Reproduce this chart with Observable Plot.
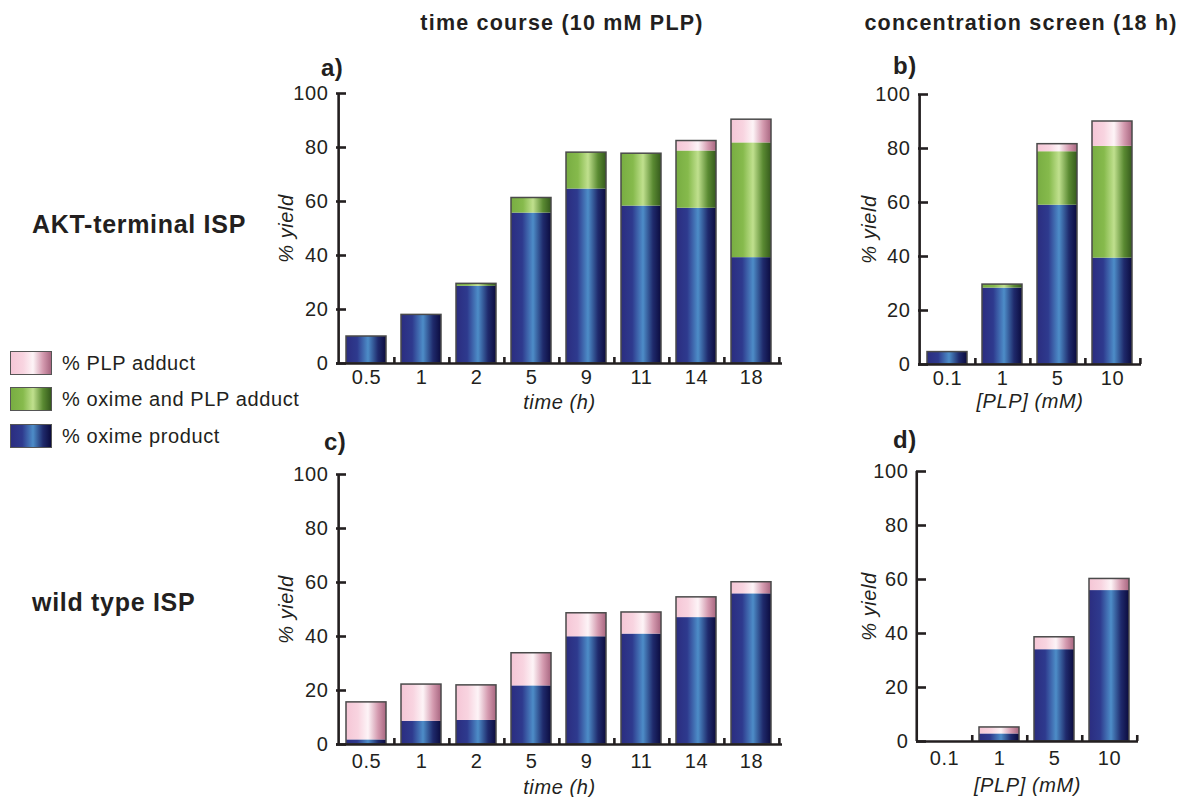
<!DOCTYPE html>
<html><head><meta charset="utf-8">
<script src="https://cdn.jsdelivr.net/npm/d3@7"></script>
<script src="https://cdn.jsdelivr.net/npm/@observablehq/plot@0.6"></script>
<style>
body{margin:0;background:#fff;}
#root{position:relative;width:1181px;height:797px;overflow:hidden;font-family:"Liberation Sans",Arial,sans-serif;color:#231f20;}
.abs{position:absolute;white-space:nowrap;line-height:1;}
.title{font-weight:bold;font-size:21.5px;letter-spacing:1.2px;transform:translateX(-50%);}
.row{font-weight:bold;font-size:25px;letter-spacing:0.7px;}
.letter{font-weight:bold;font-size:24px;letter-spacing:0.5px;}
.leg{display:flex;align-items:center;font-size:20px;letter-spacing:0.6px;}
.sw{width:40px;height:22px;border:1.5px solid #555;margin-right:10px;}
</style></head><body>
<svg width="0" height="0" style="position:absolute">
<defs>
<linearGradient id="gBlue" x1="0" x2="1" y1="0" y2="0">
<stop offset="0" stop-color="#2b2d80"/><stop offset="0.28" stop-color="#2e3a8e"/><stop offset="0.55" stop-color="#4d8dc8"/><stop offset="0.8" stop-color="#1f2a6c"/><stop offset="1" stop-color="#0b0b3e"/>
</linearGradient>
<linearGradient id="gGreen" x1="0" x2="1" y1="0" y2="0">
<stop offset="0" stop-color="#78ad42"/><stop offset="0.3" stop-color="#86ba4c"/><stop offset="0.55" stop-color="#c0e08e"/><stop offset="0.8" stop-color="#5a8a32"/><stop offset="1" stop-color="#355a1c"/>
</linearGradient>
<linearGradient id="gPink" x1="0" x2="1" y1="0" y2="0">
<stop offset="0" stop-color="#f5c6d6"/><stop offset="0.3" stop-color="#f8d4e0"/><stop offset="0.55" stop-color="#fdf4f7"/><stop offset="0.8" stop-color="#d49aaf"/><stop offset="1" stop-color="#a86680"/>
</linearGradient>
</defs>
</svg>
<div id="root"></div>
<script>
// ---- data ----
const timeCats = ["0.5", "1", "2", "5", "9", "11", "14", "18"];
const concCats = ["0.1", "1", "5", "10"];
const seriesNames = ["% oxime product", "% oxime and PLP adduct", "% PLP adduct"];
const legendOrder = ["% PLP adduct", "% oxime and PLP adduct", "% oxime product"];
const yTicks = [0, 20, 40, 60, 80, 100];

// AKT-terminal ISP, time course (segment sizes)
const aktTimeOxime = [10, 18, 28.6, 55.7, 64.6, 58.3, 57.5, 39.2];
const aktTimeBoth  = [0, 0, 0.9, 5.6, 13.5, 19.4, 21.2, 42.5];
const aktTimePLP   = [0, 0, 0, 0, 0, 0, 3.7, 8.6];
// AKT-terminal ISP, concentration screen
const aktConcOxime = [4.6, 28.3, 59.0, 39.4];
const aktConcBoth  = [0, 1.3, 19.8, 41.4];
const aktConcPLP   = [0, 0, 2.8, 9.2];
// wild type ISP, time course
const wtTimeOxime = [1.7, 8.6, 8.9, 21.7, 39.9, 40.9, 47.0, 55.8];
const wtTimeBoth  = [0, 0, 0, 0, 0, 0, 0, 0];
const wtTimePLP   = [13.9, 13.6, 13.0, 12.1, 8.7, 8.0, 7.5, 4.3];
// wild type ISP, concentration screen
const wtConcOxime = [0, 2.8, 34.0, 55.9];
const wtConcBoth  = [0, 0, 0, 0];
const wtConcPLP   = [0, 2.4, 4.6, 4.3];

const ink = "#231f20";
const fills = {"% oxime product": "url(#gBlue)", "% oxime and PLP adduct": "url(#gGreen)", "% PLP adduct": "url(#gPink)"};
const root = document.getElementById("root");

function panel(cfg) {
  const {cats, oxime, both, plp, xLabel, left, top, frameW, frameH, tickPad, xLabelDy, yLabelDx} = cfg;
  const rows = [];
  cats.forEach((c, i) => {
    rows.push({cat: c, series: seriesNames[0], value: oxime[i]});
    rows.push({cat: c, series: seriesNames[1], value: both[i]});
    rows.push({cat: c, series: seriesNames[2], value: plp[i]});
  });
  const totals = cats.map((c, i) => ({cat: c, total: oxime[i] + both[i] + plp[i]})).filter(d => d.total > 0);
  const mL = 70, mR = 14, mT = 12, mB = 66;
  const step = frameW / cats.length;
  const svg = Plot.plot({
    width: mL + frameW + mR, height: mT + frameH + mB,
    marginLeft: mL, marginRight: mR, marginTop: mT, marginBottom: mB,
    style: {fontFamily: '"Liberation Sans", Arial, sans-serif', fontSize: "20px", color: ink, background: "transparent", overflow: "visible", letterSpacing: "0.6px"},
    x: {domain: cats, paddingInner: 0.27, paddingOuter: 0.135, align: 0.5},
    y: {domain: [0, 100]},
    color: {domain: seriesNames, range: seriesNames.map(s => fills[s])},
    marks: [
      Plot.barY(rows, {x: "cat", y: "value", fill: "series", z: "series"}),
      Plot.barY(totals, {x: "cat", y: "total", fill: "none", stroke: "#4a4a4a", strokeWidth: 1.5}),
      Plot.ruleY([0], {stroke: ink, strokeWidth: 2.6}),
      Plot.ruleX([cats[0]], {x: d => d, dx: -step / 2, stroke: ink, strokeWidth: 2.6}),
      Plot.tickY(yTicks, {y: d => d, insetRight: frameW - 10, stroke: ink, strokeWidth: 2.6}),
      Plot.tickX(cats, {x: d => d, dx: step / 2, insetTop: frameH - 6, stroke: ink, strokeWidth: 2.6}),
      Plot.axisY({ticks: yTicks, tickSize: 0, tickPadding: 8, label: null, fontSize: 20}),
      Plot.axisX({tickSize: 0, tickPadding: tickPad, label: null, fontSize: 20}),
      Plot.text([xLabel], {frameAnchor: "bottom", dy: xLabelDy, fontStyle: "italic", fontSize: 20, textAnchor: "middle", text: d => d}),
      Plot.text(["% yield"], {frameAnchor: "left", dx: -yLabelDx, rotate: -90, fontStyle: "italic", fontSize: 20, textAnchor: "middle", text: d => d})
    ]
  });
  svg.style.position = "absolute";
  svg.style.left = (left - mL) + "px";
  svg.style.top = (top - mT) + "px";
  root.appendChild(svg);
}

panel({cats: timeCats, oxime: aktTimeOxime, both: aktTimeBoth, plp: aktTimePLP, xLabel: "time (h)", left: 336, top: 93, frameW: 446, frameH: 270, tickPad: 6, xLabelDy: 45, yLabelDx: 50});
panel({cats: concCats, oxime: aktConcOxime, both: aktConcBoth, plp: aktConcPLP, xLabel: "[PLP] (mM)", left: 918, top: 94, frameW: 223, frameH: 270, tickPad: 6, xLabelDy: 43, yLabelDx: 49});
panel({cats: timeCats, oxime: wtTimeOxime, both: wtTimeBoth, plp: wtTimePLP, xLabel: "time (h)", left: 336, top: 474, frameW: 446, frameH: 270, tickPad: 9, xLabelDy: 49, yLabelDx: 50});
panel({cats: concCats, oxime: wtConcOxime, both: wtConcBoth, plp: wtConcPLP, xLabel: "[PLP] (mM)", left: 916, top: 471, frameW: 222, frameH: 270, tickPad: 9, xLabelDy: 50, yLabelDx: 47});

function addText(text, cls, left, top) {
  const d = document.createElement("div");
  d.className = "abs " + cls;
  d.textContent = text;
  d.style.left = left + "px";
  d.style.top = top + "px";
  root.appendChild(d);
}
addText("time course (10 mM PLP)", "title", 562, 13);
addText("concentration screen (18 h)", "title", 1021, 13);
addText("a)", "letter", 321, 56);
addText("b)", "letter", 893, 54);
addText("c)", "letter", 324, 430);
addText("d)", "letter", 893, 428);
addText("AKT-terminal ISP", "row", 32, 212);
addText("wild type ISP", "row", 32, 590);

const legTops = [351, 387, 424];
legendOrder.forEach((s, i) => {
  const d = document.createElement("div");
  d.className = "abs leg";
  d.style.left = "10px";
  d.style.top = legTops[i] + "px";
  const sw = document.createElement("div");
  sw.className = "sw";
  const g = {"% PLP adduct": "linear-gradient(to right,#f5c6d6 0%,#f8d4e0 30%,#fdf4f7 55%,#d49aaf 80%,#a86680 100%)",
             "% oxime and PLP adduct": "linear-gradient(to right,#78ad42 0%,#86ba4c 30%,#c0e08e 55%,#5a8a32 80%,#355a1c 100%)",
             "% oxime product": "linear-gradient(to right,#2b2d80 0%,#2e3a8e 28%,#4d8dc8 55%,#1f2a6c 80%,#0b0b3e 100%)"}[s];
  sw.style.background = g;
  const t = document.createElement("span");
  t.textContent = s;
  d.appendChild(sw); d.appendChild(t);
  root.appendChild(d);
});
</script>
</body></html>
